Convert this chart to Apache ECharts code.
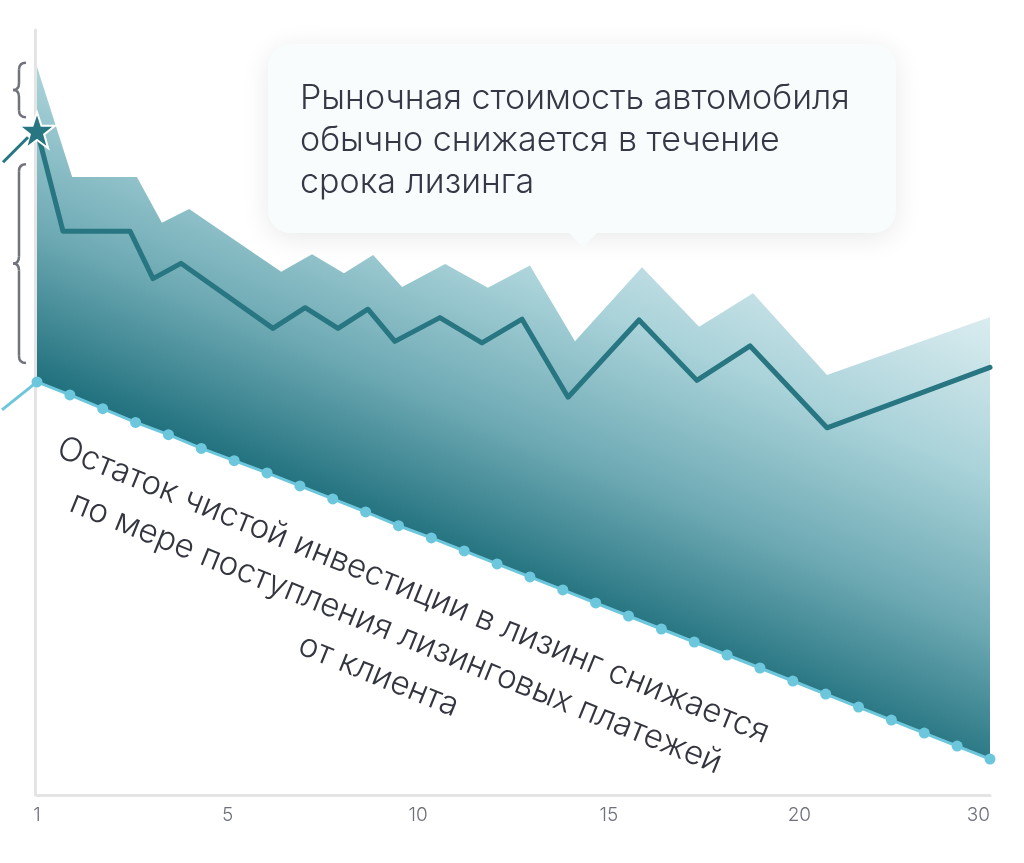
<!DOCTYPE html>
<html>
<head>
<meta charset="utf-8">
<script src="https://cdn.jsdelivr.net/npm/echarts@6/dist/echarts.min.js"></script>
<style>
  html, body { margin: 0; padding: 0; background: #fff; }
  #chart { width: 1024px; height: 863px; }
</style>
</head>
<body>
<div id="chart"></div>
<script>
// axis labels (decorative months)
const tickLabels = ['1', '5', '10', '15', '20', '30'];

// net investment balance, one point per payment
const months = [1, 2, 3, 4, 5, 6, 7, 8, 9, 10, 11, 12, 13, 14, 15,
                16, 17, 18, 19, 20, 21, 22, 23, 24, 25, 26, 27, 28, 29, 30];
const investmentLeft = [54.0, 52.3, 50.5, 48.7, 47.1, 45.3, 43.7, 42.1, 40.4, 38.7,
                        37.0, 35.2, 33.6, 31.9, 30.2, 28.5, 26.8, 25.1, 23.4, 21.7,
                        20.0, 18.3, 16.6, 14.9, 13.2, 11.5, 9.8, 8.1, 6.4, 4.7];

// market value of the car (main line)
const marketX = [1, 1.79, 3.83, 4.53, 5.38, 8.18, 9.16, 10.16, 11.07, 11.89,
                 13.26, 14.54, 15.76, 17.16, 19.32, 21.08, 22.70, 25.04, 30];
const marketY = [86.9, 73.7, 73.7, 67.5, 69.5, 61.0, 63.7, 61.0, 63.5, 59.3,
                 62.4, 59.1, 62.2, 52.0, 62.1, 54.2, 58.7, 48.0, 55.9];

// upper edge of the market value band
const bandX = [1, 2.07, 4.04, 4.80, 5.63, 8.43, 9.37, 10.34, 11.23, 12.11,
               13.42, 14.72, 16.00, 17.37, 19.41, 21.15, 22.79, 25.04, 30];
const bandY = [95.2, 80.8, 80.8, 74.8, 76.6, 68.4, 70.7, 68.2, 70.6, 66.4,
               69.4, 66.3, 69.2, 59.3, 69.0, 61.2, 65.6, 54.9, 62.5];

const noteText = 'Рыночная стоимость автомобиля\nобычно снижается в течение\nсрока лизинга';
const slopeText = 'Остаток чистой инвестиции в лизинг снижается\nпо мере поступления лизинговых платежей\nот клиента';

const FONT = 'Inter, "Noto Sans", sans-serif';
const TEAL = '#277681';
const LIGHT_BLUE = '#6cc7dc';
const GRAY_AXIS = '#e4e4e4';
const BRACE = '#70737d';

const starPath = 'path://M50,2 L61.8,36 L97.6,36 L68.9,57.4 L79.4,92 L50,71.3 L20.6,92 L31.1,57.4 L2.4,36 L38.2,36 Z';

const chart = echarts.init(document.getElementById('chart'));

chart.setOption({
    animation: false,
    backgroundColor: '#fff',
    grid: { left: 37, right: 34, top: 30, bottom: 68 },
    xAxis: [
        {
            type: 'value',
            min: 1,
            max: 30,
            z: 5,
            axisLine: { show: true, lineStyle: { color: GRAY_AXIS, width: 3 } },
            axisTick: { show: false },
            axisLabel: { show: false },
            splitLine: { show: false }
        },
        {
            type: 'category',
            position: 'bottom',
            data: tickLabels,
            boundaryGap: false,
            axisLine: { show: false },
            axisTick: { show: false },
            splitLine: { show: false },
            axisLabel: {
                interval: 0,
                margin: 11,
                color: '#6e717b',
                fontSize: 19,
                fontFamily: FONT,
                fontWeight: 300,
                alignMaxLabel: 'right'
            }
        }
    ],
    yAxis: {
        type: 'value',
        min: 0,
        max: 100,
        offset: 2,
        axisLine: { show: true, lineStyle: { color: GRAY_AXIS, width: 3 } },
        axisTick: { show: false },
        axisLabel: { show: false },
        splitLine: { show: false }
    },
    series: [
        {
            name: 'band',
            type: 'line',
            data: bandX.map((x, i) => [x, bandY[i]]),
            symbol: 'none',
            lineStyle: { width: 0 },
            areaStyle: {
                opacity: 1,
                origin: 'start',
                color: new echarts.graphic.LinearGradient(37, 382, 220, -52, [
                    { offset: 0, color: '#20707d' },
                    { offset: 0.3, color: '#6eaab4' },
                    { offset: 0.6, color: '#a9d2d9' },
                    { offset: 1, color: '#e8f4f6' }
                ], true)
            },
            z: 1
        },
        {
            name: 'investment',
            type: 'line',
            data: months.map((m, i) => [m, investmentLeft[i]]),
            symbol: 'circle',
            symbolSize: 11,
            showSymbol: true,
            itemStyle: { color: LIGHT_BLUE },
            lineStyle: { color: LIGHT_BLUE, width: 3 },
            areaStyle: { color: '#fff', opacity: 1, origin: 'start' },
            z: 3
        },
        {
            name: 'market',
            type: 'line',
            data: marketX.map((x, i) => {
                const p = { value: [x, marketY[i]] };
                if (i === 0) {
                    p.symbol = starPath;
                    p.symbolSize = 36;
                    p.itemStyle = { color: TEAL, borderColor: '#fff', borderWidth: 2 };
                }
                return p;
            }),
            symbol: 'none',
            showAllSymbol: true,
            lineStyle: { color: TEAL, width: 5, join: 'round', cap: 'round' },
            z: 4
        }
    ]
});

// annotations placed from the data points
const px = (x, y) => chart.convertToPixel({ xAxisIndex: 0, yAxisIndex: 0 }, [x, y]);
const bandTop = px(bandX[0], bandY[0]);
const marketStart = px(marketX[0], marketY[0]);
const investStart = px(months[0], investmentLeft[0]);

// curly brace "{" built from quadratic curves and straight pieces
function brace(y0, y1) {
    const xr = 26, xm = 19, xl = 13, r = 7;
    const ym = (y0 + y1) / 2;
    const st = { stroke: BRACE, lineWidth: 2.5, fill: null };
    return [
        { type: 'bezierCurve', shape: { x1: xr, y1: y0, cpx1: xm, cpy1: y0, x2: xm, y2: y0 + r }, style: st, z: 10 },
        { type: 'line', shape: { x1: xm, y1: y0 + r, x2: xm, y2: ym - r }, style: st, z: 10 },
        { type: 'bezierCurve', shape: { x1: xm, y1: ym - r, cpx1: xm, cpy1: ym, x2: xl, y2: ym }, style: st, z: 10 },
        { type: 'bezierCurve', shape: { x1: xl, y1: ym, cpx1: xm, cpy1: ym, x2: xm, y2: ym + r }, style: st, z: 10 },
        { type: 'line', shape: { x1: xm, y1: ym + r, x2: xm, y2: y1 - r }, style: st, z: 10 },
        { type: 'bezierCurve', shape: { x1: xm, y1: y1 - r, cpx1: xm, cpy1: y1, x2: xr, y2: y1 }, style: st, z: 10 }
    ];
}

const graphics = []
    .concat(brace(bandTop[1] - 4, marketStart[1] - 13))
    .concat(brace(marketStart[1] + 34, investStart[1] - 19))
    .concat([
        {
            type: 'line',
            shape: { x1: 3, y1: marketStart[1] + 32, x2: marketStart[0] - 9, y2: marketStart[1] + 7 },
            style: { stroke: TEAL, lineWidth: 3 },
            z: 9
        },
        {
            type: 'line',
            shape: { x1: 2, y1: investStart[1] + 28, x2: investStart[0], y2: investStart[1] },
            style: { stroke: LIGHT_BLUE, lineWidth: 3 },
            z: 9
        },
        {
            type: 'text',
            x: 396,
            y: 633,
            rotation: -22.1 * Math.PI / 180,
            style: {
                text: slopeText,
                fill: '#34363f',
                font: '300 33px ' + FONT,
                align: 'center',
                verticalAlign: 'middle',
                lineHeight: 46
            },
            z: 20
        },
        {
            type: 'group',
            z: 30,
            children: [
                {
                    type: 'rect',
                    shape: { x: 268, y: 44, width: 628, height: 189, r: 22 },
                    style: {
                        fill: '#f8fcfd',
                        shadowBlur: 28,
                        shadowColor: 'rgba(0,0,0,0.09)',
                        shadowOffsetY: 5
                    }
                },
                {
                    type: 'polygon',
                    shape: { points: [[568, 232], [583, 247], [598, 232]] },
                    style: { fill: '#f8fcfd' }
                },
                {
                    type: 'text',
                    x: 300,
                    y: 78,
                    style: {
                        text: noteText,
                        fill: '#353845',
                        font: '300 34px ' + FONT,
                        lineHeight: 42,
                        verticalAlign: 'top'
                    }
                }
            ]
        }
    ]);

chart.setOption({ graphic: graphics });

window.addEventListener('resize', function () {
    chart.resize();
});
</script>
</body>
</html>
